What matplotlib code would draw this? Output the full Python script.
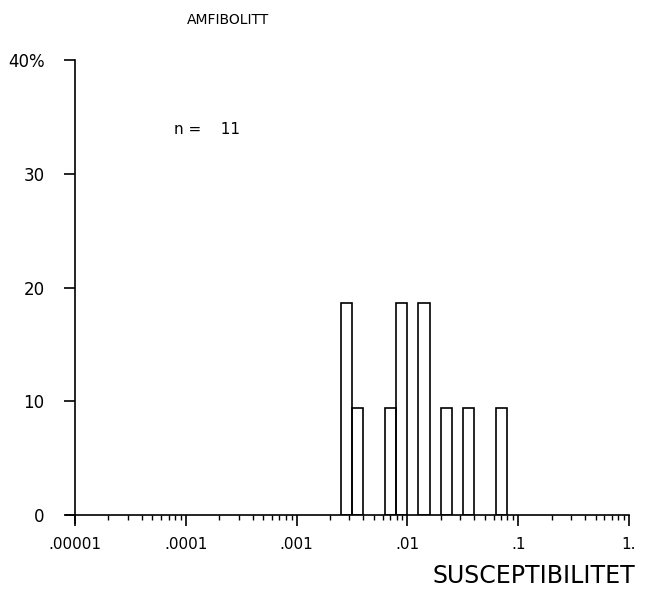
import numpy as np
import matplotlib
matplotlib.use('Agg')
import matplotlib.pyplot as plt

# log10 lower edge of each bin (bin width 0.1 in log10) and percent of samples
bin_lo = [-2.6, -2.5, -2.2, -2.1, -1.9, -1.7, -1.5, -1.2]
pct = [18.6, 9.4, 9.4, 18.6, 18.6, 9.4, 9.4, 9.4]
bin_w = 0.1

xticks = [1e-5, 1e-4, 1e-3, 1e-2, 1e-1, 1]
xticklabels = ['.00001', '.0001', '.001', '.01', '.1', '1.']
yticks = [0, 10, 20, 30, 40]
yticklabels = ['0', '10', '20', '30', '40%']

fig = plt.figure(figsize=(6.46, 5.9), dpi=100)
ax = fig.add_axes([0.1161, 0.1271, 0.8576, 0.771])

lefts = 10 ** np.array(bin_lo)
widths = 10 ** (np.array(bin_lo) + bin_w) - lefts
ax.bar(lefts, pct, width=widths, align='edge', fill=False,
       edgecolor='black', linewidth=1.2)

ax.set_xscale('log')
ax.set_xlim(1e-5, 1)
ax.set_ylim(0, 40)

ax.set_xticks(xticks)
ax.set_xticklabels(xticklabels)
ax.set_yticks(yticks)
ax.set_yticklabels(yticklabels)

for s in ['top', 'right']:
    ax.spines[s].set_visible(False)
for s in ['left', 'bottom']:
    ax.spines[s].set_linewidth(1.2)

ax.tick_params(axis='x', which='major', direction='out', length=8, width=1.2,
               labelsize=11, pad=8)
ax.tick_params(axis='x', which='minor', direction='out', length=3.5, width=1.0)
ax.tick_params(axis='y', which='major', direction='out', length=8, width=1.2,
               labelsize=12, pad=14)

# small stubs where the axes cross, like the plotter drew them
ax.plot([-0.016, 0], [0, 0], color='black', lw=1.2, transform=ax.transAxes, clip_on=False)
ax.plot([0, 0], [-0.017, 0], color='black', lw=1.2, transform=ax.transAxes, clip_on=False)

fig.text(0.353, 0.966, 'AMFIBOLITT', fontsize=10, ha='center', va='center')
fig.text(0.27, 0.78, 'n =    11', fontsize=11, ha='left', va='center')
fig.text(0.983, 0.004, 'SUSCEPTIBILITET', fontsize=17, ha='right', va='bottom')

fig.savefig('out.png', dpi=100)
